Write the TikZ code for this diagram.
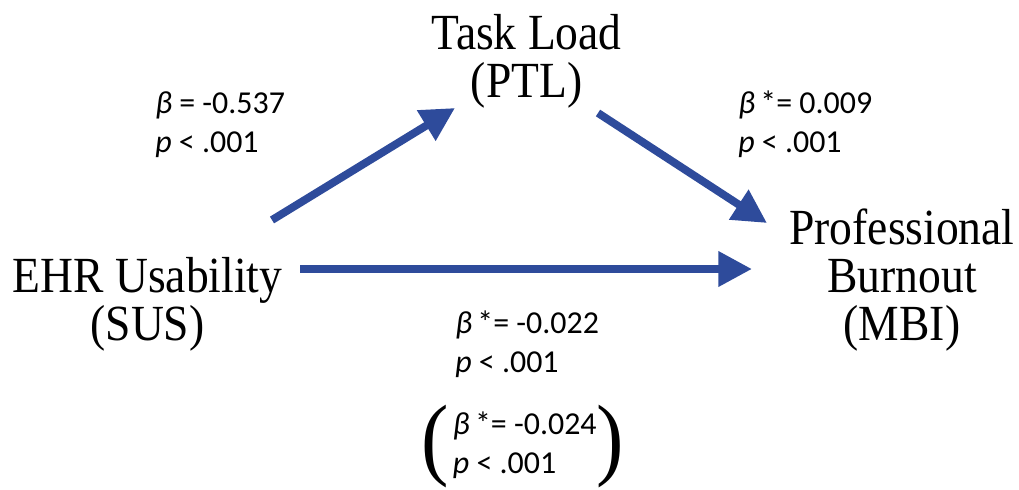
\documentclass[tikz,border=0pt]{standalone}
\usepackage{fontspec}
\setmainfont[FakeStretch=0.9]{Liberation Serif}
\newfontfamily\coeffont{Carlito}
\usetikzlibrary{arrows.meta}
\definecolor{pathblue}{RGB}{46,75,155}
\tikzset{
  var/.style={align=center, inner sep=0pt, anchor=base, font=\fontsize{36}{34}\selectfont},
  coef/.style={align=left, inner sep=0pt, anchor=base west, font=\coeffont\fontsize{22.7}{27.6}\selectfont},
  link/.style={draw=pathblue, line width=5.6pt, -{Triangle[length=24pt,width=24pt]}},
}
\newcommand{\bstar}{{\itshape β}\,*=}
\newcommand{\bigparen}[1]{{\rmfamily\fontsize{65}{65}\selectfont\raisebox{3pt}{#1}}}
\begin{document}
\begin{tikzpicture}[x=0.025cm,y=-0.025cm]
    \useasboundingbox (0,0) rectangle (1019,489);
    % variables
    \node[var] (ptl) at (526.5,97) {Task Load\\(PTL)};
    \node[var] (sus) at (147.5,340) {EHR Usability\\(SUS)};
    \node[var] (mbi) at (902,340) {Professional\\Burnout\\(MBI)};
    % arrow ends
    \coordinate (sus out a) at (272,220);
    \coordinate (ptl in) at (455,108);
    \coordinate (ptl out) at (598,113);
    \coordinate (mbi in a) at (767,223);
    \coordinate (sus out b) at (300,269);
    \coordinate (mbi in b) at (752,269);
    \draw[link] (sus out a) -- (ptl in);
    \draw[link] (ptl out) -- (mbi in a);
    \draw[link] (sus out b) -- (mbi in b);
    % coefficients
    \node[coef] (c1) at (155,152) {{\itshape β} = -0.537\\{\itshape p} < .001};
    \node[coef] (c2) at (738,152) {\bstar{} 0.009\\{\itshape p} < .001};
    \node[coef] (c3) at (455,372) {\bstar{} -0.022\\{\itshape p} < .001};
    \node[coef] (c4) at (421,473)
      {\bigparen{(}\hspace{3pt}\begin{tabular}[b]{@{}l@{}}\bstar{} -0.024\\{\itshape p} < .001\end{tabular}\bigparen{)}};
\end{tikzpicture}
\end{document}
